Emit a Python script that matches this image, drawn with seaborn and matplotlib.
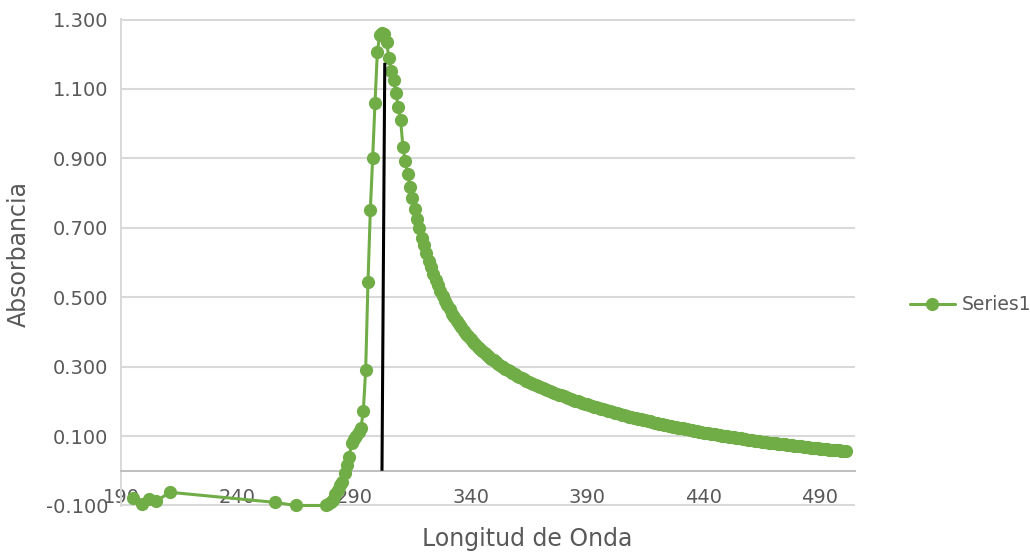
import matplotlib
matplotlib.use("Agg")
import matplotlib.pyplot as plt
import pandas as pd
import seaborn as sns

# Sparse readings in the deep UV
uv_wavelengths = [195, 199, 202, 205, 211, 256, 265]
uv_absorbance = [-0.078, -0.097, -0.082, -0.088, -0.062, -0.091, -0.100]

# 1 nm scan from 278 nm upward
scan_start = 278
scan_absorbance = [
    # 278-311
    -0.100, -0.097, -0.090, -0.083, -0.068, -0.054, -0.042, -0.031, -0.005, 0.018,
    0.041, 0.081, 0.092, 0.101, 0.112, 0.124, 0.173, 0.291, 0.544, 0.751,
    0.900, 1.059, 1.205, 1.255, 1.262, 1.258, 1.234, 1.188, 1.153, 1.125,
    1.087, 1.047, 1.010, 0.932,
    # 312-331
    0.891, 0.854, 0.818, 0.785, 0.754, 0.725, 0.698, 0.672, 0.649, 0.626,
    0.605, 0.586, 0.567, 0.550, 0.534, 0.518, 0.504, 0.490, 0.477, 0.465,
    # 332-351
    0.453, 0.442, 0.432, 0.422, 0.413, 0.404, 0.395, 0.387, 0.379, 0.372,
    0.365, 0.358, 0.352, 0.345, 0.339, 0.334, 0.328, 0.323, 0.318, 0.313,
    # 352-371
    0.308, 0.303, 0.299, 0.294, 0.290, 0.286, 0.282, 0.278, 0.274, 0.271,
    0.267, 0.264, 0.260, 0.257, 0.254, 0.251, 0.247, 0.244, 0.241, 0.238,
    # 372-391
    0.236, 0.233, 0.230, 0.227, 0.225, 0.222, 0.219, 0.217, 0.214, 0.212,
    0.209, 0.207, 0.205, 0.202, 0.200, 0.198, 0.196, 0.193, 0.191, 0.189,
    # 392-411
    0.187, 0.185, 0.183, 0.181, 0.179, 0.177, 0.175, 0.173, 0.171, 0.169,
    0.167, 0.165, 0.164, 0.162, 0.160, 0.158, 0.156, 0.155, 0.153, 0.151,
    # 412-431
    0.150, 0.148, 0.146, 0.145, 0.143, 0.142, 0.140, 0.139, 0.137, 0.136,
    0.134, 0.133, 0.131, 0.130, 0.129, 0.127, 0.126, 0.124, 0.123, 0.122,
    # 432-451
    0.120, 0.119, 0.118, 0.117, 0.115, 0.114, 0.113, 0.112, 0.110, 0.109,
    0.108, 0.107, 0.106, 0.105, 0.103, 0.102, 0.101, 0.100, 0.099, 0.098,
    # 452-471
    0.097, 0.096, 0.095, 0.094, 0.093, 0.092, 0.091, 0.090, 0.089, 0.088,
    0.087, 0.086, 0.085, 0.084, 0.083, 0.082, 0.081, 0.081, 0.080, 0.079,
    # 472-491
    0.078, 0.077, 0.076, 0.076, 0.075, 0.074, 0.073, 0.072, 0.072, 0.071,
    0.070, 0.069, 0.068, 0.068, 0.067, 0.066, 0.066, 0.065, 0.064, 0.064,
    # 492-501
    0.063, 0.062, 0.061, 0.061, 0.060, 0.060, 0.059, 0.058, 0.058, 0.057,
]
scan_wavelengths = list(range(scan_start, scan_start + len(scan_absorbance)))

# Marker line drawn at the absorption maximum
peak_line_x = [302.0, 303.2]
peak_line_y = [0.0, 1.175]

x_ticks = [190, 240, 290, 340, 390, 440, 490]
y_ticks = [-0.1, 0.1, 0.3, 0.5, 0.7, 0.9, 1.1, 1.3]

df = pd.DataFrame({
    "Longitud de Onda": uv_wavelengths + scan_wavelengths,
    "Absorbancia": uv_absorbance + scan_absorbance,
})

sns.set_theme(style="white")
plt.rcParams["font.family"] = ["DejaVu Sans"]

GREEN = "#70AD47"
TEXT = "#595959"

W, H = 1030, 557
fig = plt.figure(figsize=(W / 100, H / 100), dpi=100)
ax = fig.add_axes([121 / W, 1 - 506 / H, (855 - 121) / W, (506 - 19) / H])

sns.lineplot(
    data=df, x="Longitud de Onda", y="Absorbancia", ax=ax,
    color=GREEN, linewidth=2.2, marker="o", markersize=9.5,
    markeredgewidth=0, markerfacecolor=GREEN, sort=False,
    label="Series1", clip_on=False, zorder=3,
)
ax.plot(peak_line_x, peak_line_y, color="black", linewidth=2.2, zorder=4,
        solid_capstyle="butt")

ax.set_xlim(190, 505)
ax.set_ylim(-0.1015, 1.3015)
ax.set_xticks(x_ticks)
ax.set_xticklabels([str(v) for v in x_ticks])
ax.set_yticks(y_ticks)
ax.set_yticklabels([f"{v:.3f}" for v in y_ticks])

ax.yaxis.grid(True, color="#D9D9D9", linewidth=1.5)
ax.xaxis.grid(False)
ax.set_axisbelow(True)

for side in ("top", "right"):
    ax.spines[side].set_visible(False)
ax.spines["bottom"].set_position(("data", 0))
ax.spines["bottom"].set_color("#BFBFBF")
ax.spines["bottom"].set_linewidth(1.4)
ax.spines["left"].set_color("#D9D9D9")
ax.spines["left"].set_linewidth(1.4)

ax.tick_params(axis="x", length=0, pad=12.5, labelsize=14, labelcolor=TEXT)
ax.tick_params(axis="y", length=0, pad=9, labelsize=14, labelcolor=TEXT)

ax.set_xlabel("")
ax.set_ylabel("")
fig.text(527 / W, 1 - 539 / H, "Longitud de Onda", ha="center", va="center",
         fontsize=17, color=TEXT)
fig.text(19 / W, 1 - 254 / H, "Absorbancia", ha="center", va="center",
         rotation=90, fontsize=17, color=TEXT)

ax.legend_.remove()
handles, labels = ax.get_legend_handles_labels()
fig.legend(handles[:1], labels[:1], loc="center left",
           bbox_to_anchor=(902 / W, 1 - 305 / H), frameon=False,
           fontsize=13.5, labelcolor=TEXT, handlelength=2.4,
           handletextpad=0.4, borderaxespad=0)

fig.savefig("out.png", dpi=100)
